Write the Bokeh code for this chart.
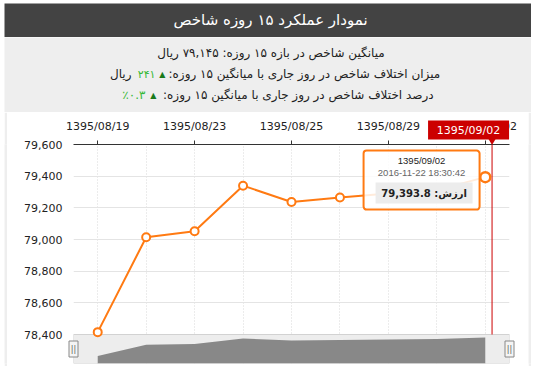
from bokeh.plotting import figure
from bokeh.layouts import column, row
from bokeh.models import Range1d, FixedTicker, NumeralTickFormatter, BoxAnnotation, Label
from bokeh.core.properties import value
from bokeh.embed import file_html
from bokeh.resources import INLINE

# ---------------- data ----------------
dates = ["1395/08/19", "1395/08/22", "1395/08/23", "1395/08/24", "1395/08/25",
         "1395/08/26", "1395/08/29", "1395/09/01", "1395/09/02"]
values = [78415, 79014, 79052, 79340, 79237, 79265, 79290, 79312, 79393.8]
label_every = 2
y_ticks = [78400, 78600, 78800, 79000, 79200, 79400, 79600]

title_text = "نمودار عملکرد ۱۵ روزه شاخص"
info_line1 = "میانگین شاخص در بازه ۱۵ روزه: ۷۹,۱۴۵ ریال"
info_line2_label = "میزان اختلاف شاخص در روز جاری با میانگین ۱۵ روزه:"
info_line2_value = "۲۴۱"
info_line2_unit = "ریال"
info_line3_label = "درصد اختلاف شاخص در روز جاری با میانگین ۱۵ روزه:"
info_line3_value = "٪۰.۳"
up_arrow = "▲"
tip_time = "2016-11-22 18:30:42"
tip_value_label = "ارزش:"
crosshair_index = 8.14

idx = list(range(len(values)))
tick_idx = idx[::label_every]
minor_idx = [i for i in idx if i not in tick_idx]

# ---------------- style / layout ----------------
W = 527
DARK = "#434343"
GRAY = "#eeeeee"
ORANGE = "#ff7a12"
RED = "#cc0000"
FA = "DejaVu Sans"
RLM = "\u200f"

def blank(width, height, color, xr=None, yr=None):
    f = figure(width=width, height=height, toolbar_location=None,
               x_axis_type=None, y_axis_type=None, min_border=0,
               x_range=xr if xr is not None else Range1d(0, 1),
               y_range=yr if yr is not None else Range1d(0, 1),
               outline_line_color=None, background_fill_color=color,
               border_fill_color=color, output_backend="svg")
    return f

# title bar
TH = 34
tf = blank(W, TH, DARK, Range1d(0, W), Range1d(TH, 0))
tf.text(x=[266], y=[16.5], text=[title_text], text_font=value(FA),
        text_font_size="15px", text_color="white", text_align="center",
        text_baseline="middle")

# info block
IH = 75
L1, L2, L3 = 15.5, 36.5, 57.5
inf = blank(W, IH, GRAY, Range1d(0, W), Range1d(IH, 0))
common = dict(text_font=value(FA), text_font_size="12px", text_baseline="middle")
inf.text(x=[266.5], y=[L1], text=[info_line1], text_color="#222222",
         text_align="center", **common)
# line 2
inf.text(x=[164], y=[L2], text=[info_line2_label + RLM], text_color="#222222",
         text_align="left", **common)
inf.text(x=[161], y=[L2], text=[up_arrow], text_color="#1a7a1a", text_align="right",
         text_font=value(FA), text_font_size="8px", text_baseline="middle")
inf.text(x=[151], y=[L2], text=[info_line2_value], text_color="#35b835",
         text_align="right", text_font=value(FA), text_font_size="11px",
         text_baseline="middle")
inf.text(x=[127], y=[L2], text=[info_line2_unit], text_color="#222222",
         text_align="right", **common)
# line 3
inf.text(x=[158.5], y=[L3], text=[info_line3_label + RLM], text_color="#222222",
         text_align="left", **common)
inf.text(x=[152], y=[L3], text=[up_arrow], text_color="#1a7a1a", text_align="right",
         text_font=value(FA), text_font_size="8px", text_baseline="middle")
inf.text(x=[141], y=[L3], text=[info_line3_value], text_color="#35b835",
         text_align="right", **common)

# chart
CW, CH = 521, 254
FL, FT, FW, FH = 66, 32, 436, 219
PLOT_H = 190
x0, x1 = -0.5, len(values) - 0.5
XS = FW / (x1 - x0)
YS = PLOT_H / (y_ticks[-1] - y_ticks[0])
Y_TOP = y_ticks[-1]
Y_LO = Y_TOP - FH / YS

def dx(px):
    return x0 + (px - FL) / XS

def dy(py):
    return Y_TOP - (py - FT) / YS

def sx(i):
    return FL + (i - x0) * XS

def sy(v):
    return FT + (Y_TOP - v) * YS

# navigator scale
NAV_MIN_PX, NAV_MAX_PX = 7.6, 26.0
k = (NAV_MAX_PX - NAV_MIN_PX) / (max(values) - min(values))
nav_lo = min(values) - NAV_MIN_PX / k
nav_hi = nav_lo + FH / k

p = figure(width=CW, height=CH, x_range=Range1d(x0, x1), y_range=Range1d(Y_LO, Y_TOP),
           x_axis_location="above", toolbar_location=None, output_backend="svg",
           min_border_left=FL, min_border_right=CW - FL - FW, min_border_top=FT,
           min_border_bottom=CH - FT - FH, outline_line_color=None,
           background_fill_color="white", border_fill_color="white")
p.extra_y_ranges = {"nav": Range1d(nav_lo, nav_hi)}

xa = p.xaxis[0]
xa.ticker = FixedTicker(ticks=tick_idx, minor_ticks=minor_idx)
xa.major_label_overrides = {i: dates[i] for i in tick_idx}
xa.axis_line_color = "#333333"
xa.major_tick_line_color = "#333333"
xa.minor_tick_line_color = None
xa.major_tick_out = 4
xa.major_tick_in = 0
xa.major_label_standoff = 8
xa.major_label_text_font = FA
xa.major_label_text_font_size = "11px"
xa.major_label_text_color = "#222222"

ya = p.yaxis[0]
ya.ticker = FixedTicker(ticks=y_ticks)
ya.formatter = NumeralTickFormatter(format="0,0")
ya.axis_line_color = None
ya.major_tick_line_color = None
ya.minor_tick_line_color = None
ya.major_tick_out = 0
ya.major_tick_in = 0
ya.major_label_standoff = 11
ya.major_label_text_font = FA
ya.major_label_text_font_size = "11px"
ya.major_label_text_color = "#222222"

p.ygrid.grid_line_color = "#e4e4e4"
p.xgrid.grid_line_color = "#d8d8d8"
p.xgrid.grid_line_dash = "1 2"
p.xgrid.minor_grid_line_color = "#d8d8d8"
p.xgrid.minor_grid_line_dash = "1 2"

# navigator
p.quad(left=[x0], right=[x1], bottom=[Y_LO], top=[y_ticks[0]],
       fill_color="#ededed", line_color="#d2d2d2", line_width=1)
p.varea(x=idx, y1=[nav_lo] * len(idx), y2=values, y_range_name="nav",
        fill_color="#888888")

# crosshair
p.segment(x0=[crosshair_index], y0=[y_ticks[-1]], x1=[crosshair_index], y1=[y_ticks[0]],
          line_color=RED, line_width=1)

# series
p.line(idx, values, line_color=ORANGE, line_width=2)
p.scatter(idx[:-1], values[:-1], size=8, fill_color="white", line_color=ORANGE,
          line_width=2)
p.scatter(idx[-1:], values[-1:], size=10, fill_color="white", line_color=ORANGE,
          line_width=2.5)

# tooltip
lx, ly = sx(idx[-1]), sy(values[-1])
p.add_layout(BoxAnnotation(left=dx(lx - 121.7), right=dx(lx - 5.7),
                           top=dy(ly - 26.6), bottom=dy(ly + 32.4),
                           fill_color="white", fill_alpha=0.85, line_color=ORANGE,
                           line_alpha=1, line_width=2, border_radius=3))
p.add_layout(BoxAnnotation(left=dx(lx - 109.7), right=dx(lx - 12.7),
                           top=dy(ly + 5.4), bottom=dy(ly + 26.4),
                           fill_color="#ececec", fill_alpha=1, line_color=None))
p.add_layout(Label(x=dx(lx - 63.7), y=dy(ly - 16.9), text=dates[-1],
                   text_align="center", text_baseline="middle",
                   text_font="Liberation Sans", text_font_size="9.5px",
                   text_color="#222222"))
p.add_layout(Label(x=dx(lx - 63.7), y=dy(ly - 4.9), text=tip_time,
                   text_align="center", text_baseline="middle",
                   text_font="Liberation Sans", text_font_size="9.5px",
                   text_color="#666666"))
p.add_layout(Label(x=dx(lx - 61.2), y=dy(ly + 15.9),
                   text=tip_value_label + " " + f"{values[-1]:,.1f}",
                   text_align="center", text_baseline="middle",
                   text_font=FA, text_font_size="10px", text_font_style="bold",
                   text_color="#222222"))

# crosshair label (drawn outside the frame, overlay level)
cxp = sx(crosshair_index)
p.rect(x=[dx(cxp - 23.5)], y=[dy(17.5)], width=81, height=19, width_units="screen",
       height_units="screen", fill_color=RED, line_color=None, level="overlay")
p.scatter(x=[crosshair_index], y=[dy(28)], marker="inverted_triangle", size=8,
          fill_color=RED, line_color=None, level="overlay")
p.text(x=[dx(cxp - 23.5)], y=[dy(17.5)], text=[dates[-1]], text_align="center",
       text_baseline="middle", text_font=value(FA), text_font_size="11px",
       text_color="white", level="overlay")

# navigator handles
hy = FT + PLOT_H + (FH - PLOT_H) / 2
p.rect(x=[x0, x1], y=[dy(hy)] * 2, width=9, height=16, width_units="screen",
       height_units="screen", fill_color="#f4f4f4", line_color="#888888",
       line_width=1, level="overlay")
p.text(x=[x0, x1], y=[dy(hy)] * 2, text=["||", "||"], text_align="center",
       text_baseline="middle", text_font=value(FA), text_font_size="8px",
       text_color="#555555", level="overlay")

spL = blank(3, CH, GRAY)
spR = blank(3, CH, GRAY)
spB = blank(W, 5, GRAY)

root = column(tf, inf, row(spL, p, spR), spB,
              styles={"margin-left": "4px", "margin-top": "3px"})

open("out.html", "w").write(file_html(root, INLINE))
